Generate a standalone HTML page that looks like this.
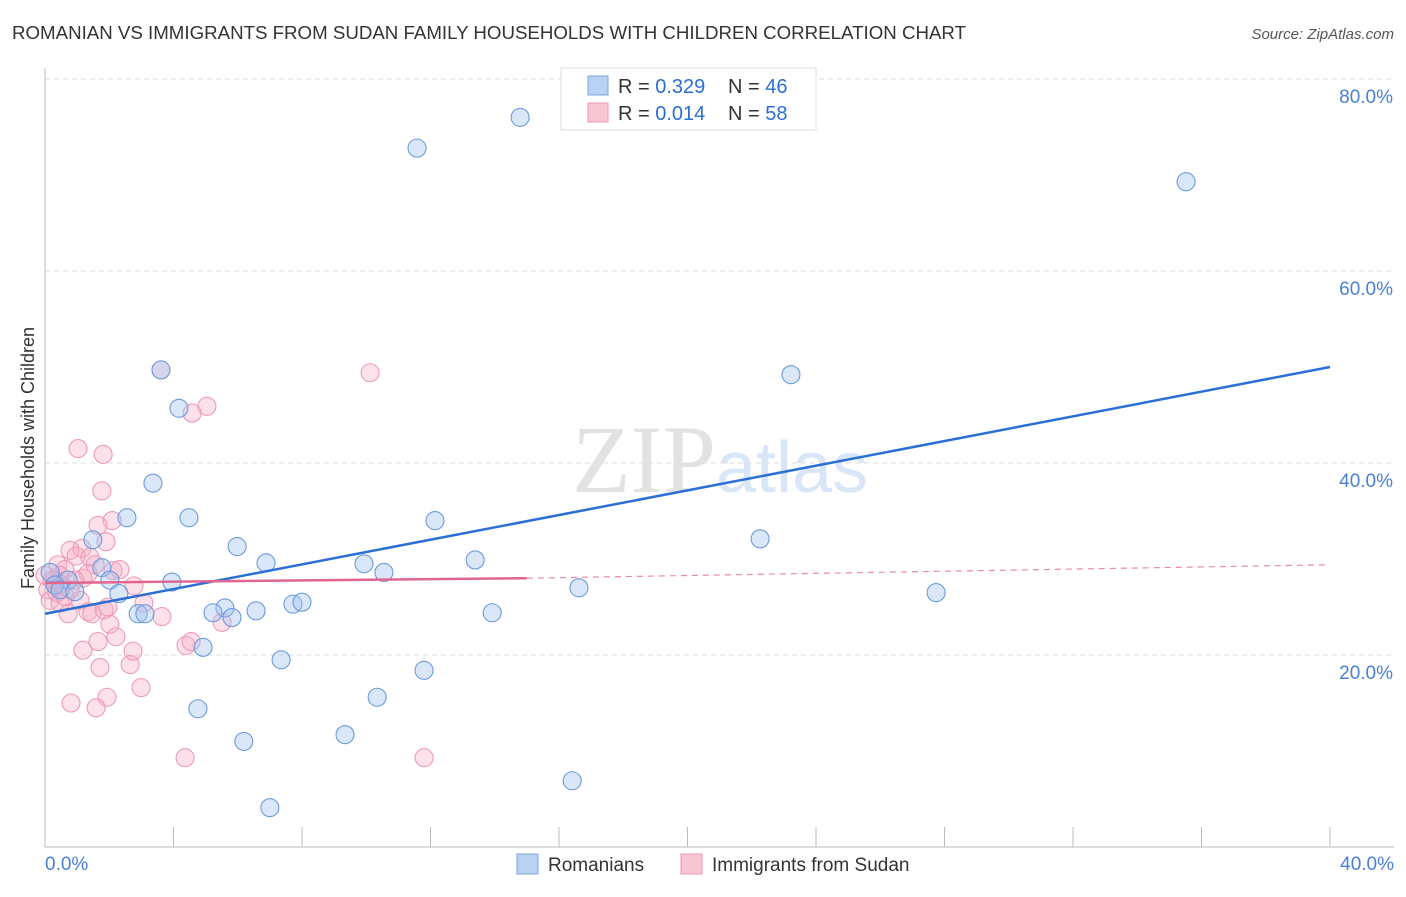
<!DOCTYPE html>
<html><head><meta charset="utf-8"><style>
body{margin:0;background:#fff;font-family:"Liberation Sans",sans-serif}
</style></head><body>
<svg width="1406" height="892" xmlns="http://www.w3.org/2000/svg" id="svg" font-family="Liberation Sans, sans-serif">
<text x="12" y="39" font-size="18" fill="#333" textLength="954" lengthAdjust="spacingAndGlyphs">ROMANIAN VS IMMIGRANTS FROM SUDAN FAMILY HOUSEHOLDS WITH CHILDREN CORRELATION CHART</text>
<text x="1394" y="39" font-size="15" fill="#555" font-style="italic" text-anchor="end">Source: ZipAtlas.com</text>
<text x="720" y="492" font-size="96" fill="#e2e2e2" text-anchor="middle" font-family="Liberation Serif, serif">ZIP<tspan fill="#d8e6f7" font-family="Liberation Sans, sans-serif" font-size="72">atlas</tspan></text>
<text transform="translate(34,458) rotate(-90)" font-size="18" fill="#333" text-anchor="middle">Family Households with Children</text>
<g id="grid"></g><g id="pts"></g><g id="lines"></g>
<g>
<rect x="561" y="68" width="255" height="62" fill="#fff" stroke="#ddd"/>
<rect x="588" y="76" width="20" height="19" fill="#b9d2f4" stroke="#7aa6e0"/>
<rect x="588" y="103" width="20" height="19" fill="#f8c6d5" stroke="#ee98b3"/>
<text x="618" y="93" font-size="20" fill="#333">R = <tspan fill="#2a6fd6">0.329</tspan></text>
<text x="728" y="93" font-size="20" fill="#333">N = <tspan fill="#2a6fd6">46</tspan></text>
<text x="618" y="120" font-size="20" fill="#333">R = <tspan fill="#2a6fd6">0.014</tspan></text>
<text x="728" y="120" font-size="20" fill="#333">N = <tspan fill="#2a6fd6">58</tspan></text>
</g>
<g>
<rect x="517" y="854" width="21" height="20" fill="#b9d2f4" stroke="#7aa6e0"/>
<text x="548" y="871" font-size="19" fill="#333">Romanians</text>
<rect x="681" y="854" width="21" height="20" fill="#f8c6d5" stroke="#ee98b3"/>
<text x="712" y="871" font-size="19" fill="#333">Immigrants from Sudan</text>
</g>
</svg>
<script>
const blueX=[14.79,11.58,35.52,3.61,23.22,4.17,3.36,2.55,4.48,12.14,1.49,5.98,22.26,13.39,6.88,9.93,10.55,1.77,0.72,2.02,3.95,0.16,0.31,0.47,0.93,2.30,16.62,27.74,5.60,5.23,6.57,7.72,8.0,5.82,2.90,3.11,13.92,4.92,7.35,11.80,10.34,4.76,9.34,6.19,16.41,7.0];
const blueY=[76.0,72.8,69.3,49.7,49.2,45.7,37.9,34.3,34.3,34.0,32.0,31.3,32.1,29.9,29.6,29.5,28.6,29.1,27.8,27.8,27.6,28.6,27.3,26.8,26.6,26.4,27.0,26.5,24.9,24.4,24.6,25.3,25.5,23.9,24.3,24.3,24.4,20.8,19.5,18.4,15.6,14.4,11.7,11.0,6.9,4.1];
const pinkX=[3.61,10.12,5.04,4.58,1.03,1.81,1.77,2.09,1.65,1.15,0.78,1.90,0.97,1.40,1.56,0.40,0.62,1.18,2.12,1.34,0.22,0.47,0.09,0.37,0.78,2.77,0.16,0.47,3.08,1.34,1.84,1.46,0.72,1.96,3.64,5.51,2.02,2.21,1.65,4.39,4.55,1.18,2.74,1.71,2.65,2.99,1.93,0.81,1.59,4.36,11.80,0.47,0.31,0.0,0.93,0.62,1.09,2.33];
const pinkY=[49.7,49.4,45.9,45.2,41.5,40.9,37.1,34.0,33.5,31.1,30.9,31.8,30.3,30.2,29.4,29.4,28.9,28.0,28.8,28.5,27.8,27.4,26.8,26.5,26.8,27.2,25.7,25.4,25.4,24.5,24.7,24.3,24.3,25.0,24.0,23.4,23.2,21.9,21.4,21.0,21.4,20.5,20.4,18.7,19.0,16.6,15.6,15.0,14.5,9.3,9.3,28.3,27.8,28.3,27.8,26.1,25.7,28.9];
const yTicks=[20,40,60,80];
const xTicks=[0,4,8,12,16,20,24,28,32,36,40];
const blueTrend=[[0,24.3],[40,50.0]];
const pinkTrend=[[0,27.5],[15,28.0],[40,29.4]];
const X=v=>45+v/40*1285, Y=v=>847-v/20*192;
const NS="http://www.w3.org/2000/svg";
function mk(t,a,p){const e=document.createElementNS(NS,t);for(const k in a)e.setAttribute(k,a[k]);p.appendChild(e);return e;}
const g=document.getElementById('grid');
yTicks.forEach(t=>{
 const l=mk('line',{x1:45,x2:1394,y1:Y(t),y2:Y(t),stroke:'#ddd','stroke-dasharray':'5,4'},g);
 
 
 const tx=mk('text',{x:1393,y:Y(t)+24,'font-size':19,fill:'#4a80d6','text-anchor':'end'},g);tx.textContent=t.toFixed(1)+'%';
 
 
});
const ax=mk('line',{x1:45,x2:1394,y1:847,y2:847,stroke:'#bbb'},g);


const ay=mk('line',{x1:45,x2:45,y1:68,y2:847,stroke:'#bbb'},g);


xTicks.forEach(t=>{const l=mk('line',{x1:X(t),x2:X(t),y1:827,y2:847,stroke:'#bbb'},g);
 
 });
[[0,'start',45],[40,'end',1394]].forEach(([t,a,x])=>{const tx=mk('text',{x:x,y:870,'font-size':19,fill:'#4a80d6','text-anchor':a},g);tx.textContent=t.toFixed(1)+'%';
 
 });
const p=document.getElementById('pts');
pinkX.forEach((x,i)=>{const c=mk('circle',{cx:X(x),cy:Y(pinkY[i]),r:9,fill:'rgba(245,170,195,0.35)',stroke:'#ee9ab6','stroke-width':1.1},p);
 
 });
blueX.forEach((x,i)=>{const c=mk('circle',{cx:X(x),cy:Y(blueY[i]),r:9,fill:'rgba(160,195,240,0.4)',stroke:'#6b9bdc','stroke-width':1.1},p);
 
 });
const L=document.getElementById('lines');
const b=mk('line',{x1:X(blueTrend[0][0]),y1:Y(blueTrend[0][1]),x2:X(blueTrend[1][0]),y2:Y(blueTrend[1][1]),stroke:'#2a6fd6','stroke-width':2.5},L);


const pk=mk('line',{x1:X(pinkTrend[0][0]),y1:Y(pinkTrend[0][1]),x2:X(pinkTrend[1][0]),y2:Y(pinkTrend[1][1]),stroke:'#e06690','stroke-width':2.5},L);


const pd=mk('line',{x1:X(pinkTrend[1][0]),y1:Y(pinkTrend[1][1]),x2:X(pinkTrend[2][0]),y2:Y(pinkTrend[2][1]),stroke:'#e88aa8','stroke-width':1.2,'stroke-dasharray':'6,5'},L);


</script>
</body></html>
